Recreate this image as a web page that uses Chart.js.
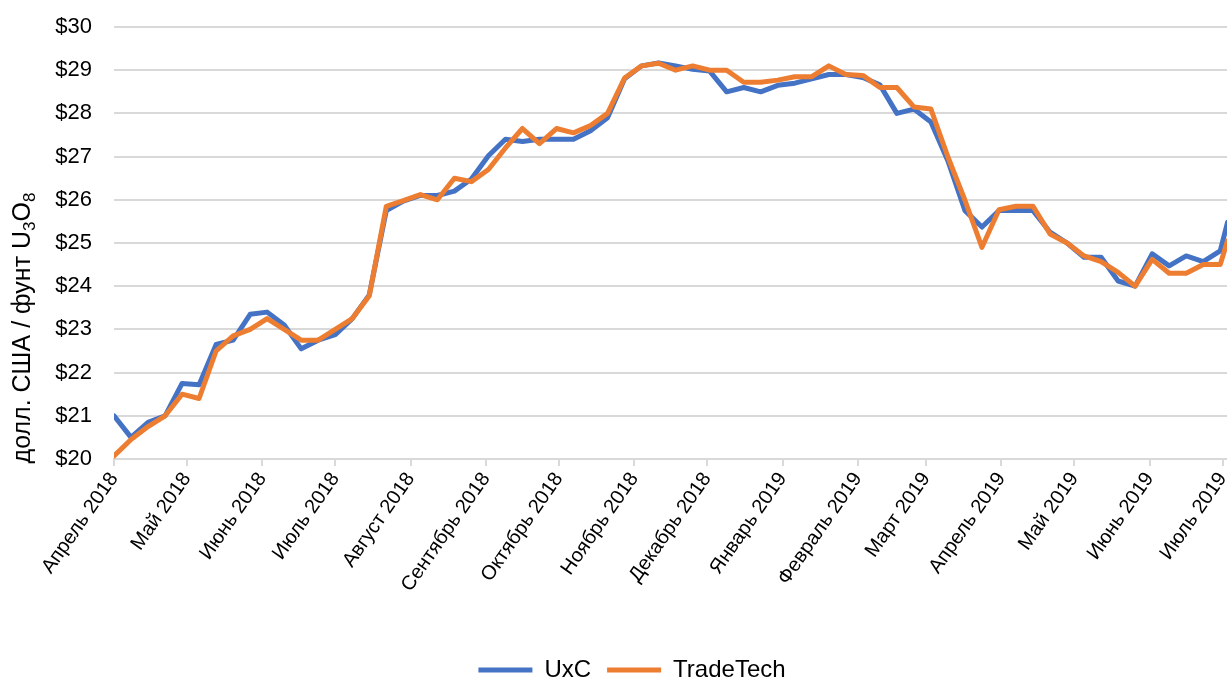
<!DOCTYPE html>
<html>
<head>
<meta charset="utf-8">
<script src="https://cdn.jsdelivr.net/npm/chart.js@4.4.1/dist/chart.umd.min.js"></script>
<style>
  html, body { margin: 0; padding: 0; overflow: hidden; background: #fff; }
  #chart { display: block; }
</style>
</head>
<body>
<canvas id="chart" width="1264" height="692"></canvas>
<script>
// weekly price points, April 2018 - July 2019
const weekDates = [
  '2018-04-01', '2018-04-08', '2018-04-15', '2018-04-22', '2018-04-29',
  '2018-05-06', '2018-05-13', '2018-05-20', '2018-05-27',
  '2018-06-03', '2018-06-10', '2018-06-17', '2018-06-24',
  '2018-07-01', '2018-07-08', '2018-07-15', '2018-07-22', '2018-07-29',
  '2018-08-05', '2018-08-12', '2018-08-19', '2018-08-26',
  '2018-09-02', '2018-09-09', '2018-09-16', '2018-09-23', '2018-09-30',
  '2018-10-07', '2018-10-14', '2018-10-21', '2018-10-28',
  '2018-11-04', '2018-11-11', '2018-11-18', '2018-11-25',
  '2018-12-02', '2018-12-09', '2018-12-16', '2018-12-23', '2018-12-30',
  '2019-01-06', '2019-01-13', '2019-01-20', '2019-01-27',
  '2019-02-03', '2019-02-10', '2019-02-17', '2019-02-24',
  '2019-03-03', '2019-03-10', '2019-03-17', '2019-03-24', '2019-03-31',
  '2019-04-07', '2019-04-14', '2019-04-21', '2019-04-28',
  '2019-05-05', '2019-05-12', '2019-05-19', '2019-05-26',
  '2019-06-02', '2019-06-09', '2019-06-16', '2019-06-23', '2019-06-30',
  '2019-07-03'
];

const uxc = [
  21.0, 20.5, 20.85, 21.0, 21.75,
  21.72, 22.65, 22.75, 23.35,
  23.4, 23.1, 22.55, 22.75,
  22.88, 23.25, 23.8, 25.75, 25.97,
  26.1, 26.1, 26.2, 26.48,
  27.02, 27.4, 27.35, 27.4, 27.4,
  27.4, 27.6, 27.9, 28.8,
  29.1, 29.17, 29.1, 29.02,
  28.98, 28.5, 28.6, 28.5, 28.65,
  28.7, 28.8, 28.9, 28.9,
  28.83, 28.66, 28.0, 28.1,
  27.8, 26.9, 25.75, 25.37, 25.75,
  25.75, 25.75, 25.25, 25.0,
  24.67, 24.67, 24.12, 24.0,
  24.75, 24.47, 24.7, 24.57, 24.82,
  25.48
];

const tradeTech = [
  20.07, 20.45, 20.75, 21.0, 21.5,
  21.4, 22.5, 22.85, 23.0,
  23.25, 23.0, 22.75, 22.75,
  23.0, 23.25, 23.78, 25.85, 25.98,
  26.12, 26.0, 26.5, 26.42,
  26.7, 27.2, 27.65, 27.3, 27.65,
  27.55, 27.72, 28.0, 28.82,
  29.1, 29.16, 29.0, 29.1,
  29.0, 29.0, 28.72, 28.72, 28.77,
  28.85, 28.85, 29.1, 28.9,
  28.88, 28.6, 28.6, 28.15,
  28.1, 26.99, 25.99, 24.9, 25.77,
  25.85, 25.85, 25.21, 25.0,
  24.7, 24.57, 24.32, 24.0,
  24.62, 24.3, 24.3, 24.5, 24.5,
  25.05
];

const monthTickDates = [
  '2018-04-01', '2018-05-01', '2018-06-01', '2018-07-01', '2018-08-01',
  '2018-09-01', '2018-10-01', '2018-11-01', '2018-12-01', '2019-01-01',
  '2019-02-01', '2019-03-01', '2019-04-01', '2019-05-01', '2019-06-01',
  '2019-07-01'
];
const monthLabels = [
  'Апрель 2018', 'Май 2018', 'Июнь 2018', 'Июль 2018', 'Август 2018',
  'Сентябрь 2018', 'Октябрь 2018', 'Ноябрь 2018', 'Декабрь 2018', 'Январь 2019',
  'Февраль 2019', 'Март 2019', 'Апрель 2019', 'Май 2019', 'Июнь 2019',
  'Июль 2019'
];

// y title pieces: [text, subscript?]
const yTitleParts = [['долл. США / фунт U', false], ['3', true], ['O', false], ['8', true]];

const FONT = '"Liberation Sans", Arial, sans-serif';
const day = s => (Date.parse(s) - Date.parse(monthTickDates[0])) / 864e5;
const points = vals => vals.map((v, i) => ({ x: day(weekDates[i]), y: v }));
const monthDays = monthTickDates.map(day);

Chart.defaults.font.family = FONT;
Chart.defaults.font.size = 22;
Chart.defaults.color = '#000';

// rotated axis title drawn by hand so that subscripts work
const yTitle = {
  id: 'yTitle',
  afterDraw(chart) {
    const ctx = chart.ctx;
    const big = '25px ' + FONT, small = '17px ' + FONT;
    ctx.save();
    let total = 0;
    yTitleParts.forEach(([t, sub]) => {
      ctx.font = sub ? small : big;
      total += ctx.measureText(t).width;
    });
    ctx.translate(30, 328);
    ctx.rotate(-Math.PI / 2);
    ctx.fillStyle = '#000';
    ctx.textBaseline = 'alphabetic';
    let x = -total / 2;
    yTitleParts.forEach(([t, sub]) => {
      ctx.font = sub ? small : big;
      ctx.fillText(t, x, sub ? 5 : 0);
      x += ctx.measureText(t).width;
    });
    ctx.restore();
  }
};

new Chart(document.getElementById('chart'), {
  type: 'line',
  data: {
    datasets: [
      {
        label: 'UxC',
        data: points(uxc),
        borderColor: '#4472C4',
        backgroundColor: '#4472C4',
        borderWidth: 5,
        order: 1
      },
      {
        label: 'TradeTech',
        data: points(tradeTech),
        borderColor: '#ED7D31',
        backgroundColor: '#ED7D31',
        borderWidth: 5,
        order: 0
      }
    ]
  },
  options: {
    responsive: false,
    animation: false,
    layout: { padding: { top: 27, left: 0, right: 0, bottom: 0 } },
    elements: {
      line: { tension: 0, borderJoinStyle: 'round', borderCapStyle: 'round' },
      point: { radius: 0, hoverRadius: 0 }
    },
    plugins: {
      legend: {
        position: 'bottom',
        labels: {
          usePointStyle: true,
          pointStyle: 'line',
          pointStyleWidth: 54,
          padding: 16,
          color: '#000',
          font: { size: 24 },
          sort: (a, b) => a.datasetIndex - b.datasetIndex
        }
      },
      tooltip: { enabled: false }
    },
    scales: {
      x: {
        type: 'linear',
        min: 0,
        max: 473,
        afterBuildTicks: s => { s.ticks = monthDays.map(v => ({ value: v })); },
        afterFit: s => { s.height = 183; s.paddingLeft = 0; s.paddingRight = 0; },
        ticks: {
          autoSkip: false,
          minRotation: 55,
          maxRotation: 55,
          padding: 2,
          font: { size: 20 },
          callback: (v, i) => monthLabels[i]
        },
        grid: {
          drawOnChartArea: false,
          drawTicks: true,
          tickLength: 7,
          color: '#D9D9D9',
          lineWidth: 2
        },
        border: { display: true, color: '#D9D9D9', width: 2 }
      },
      y: {
        min: 20,
        max: 30,
        afterFit: s => { s.width = 114; s.paddingTop = 0; s.paddingBottom = 0; },
        ticks: {
          stepSize: 1,
          padding: 22,
          callback: v => '$' + v
        },
        grid: { color: '#D9D9D9', lineWidth: 2, drawTicks: false },
        border: { display: false }
      }
    }
  },
  plugins: [yTitle]
});
</script>
</body>
</html>
